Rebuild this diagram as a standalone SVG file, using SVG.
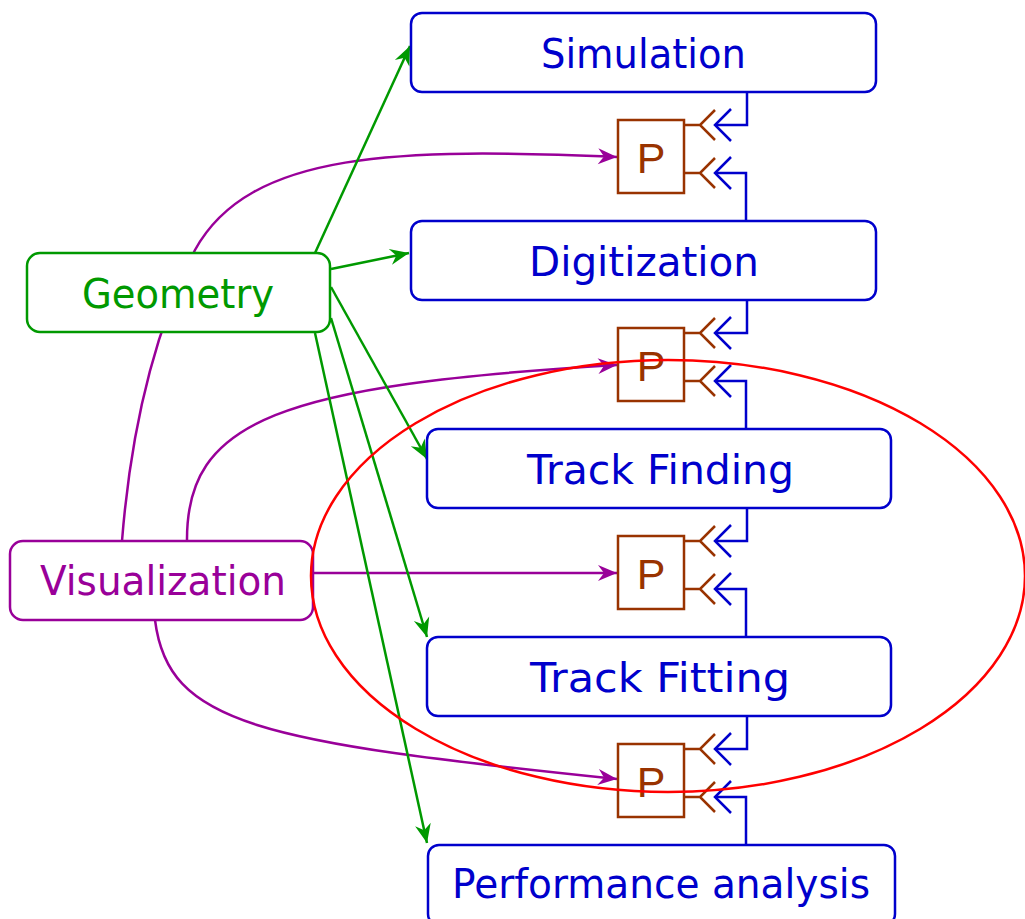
<svg xmlns="http://www.w3.org/2000/svg" width="1025" height="919" viewBox="0 0 1025 919">
<style>
.bbox{fill:#fff;stroke:#0000cc;stroke-width:2.5}
.gbox{fill:#fff;stroke:#009900;stroke-width:2.5}
.vbox{fill:#fff;stroke:#990099;stroke-width:2.5}
.pbox{fill:#fff;stroke:#993300;stroke-width:2.5}
.lbl{font-family:"Comic Sans MS","DejaVu Sans",sans-serif;font-size:40px;text-anchor:start}
.bt{fill:#0000cc}
.gt{fill:#009900}
.vt{fill:#990099}
.pt{font-family:"Liberation Sans",Arial,sans-serif;font-size:43px;fill:#993300;text-anchor:middle}
.g{fill:none;stroke:#009900;stroke-width:2.5}
.v{fill:none;stroke:#990099;stroke-width:2.5}
.bl{fill:none;stroke:#0000cc;stroke-width:2.5}
.br{fill:none;stroke:#993300;stroke-width:2.5}
</style>
<defs>
<marker id="ag" markerUnits="userSpaceOnUse" viewBox="-20 -10 22 20" refX="0" refY="0" markerWidth="22" markerHeight="20" orient="auto"><path d="M0,0 L-19,-8 L-13,0 L-19,8 Z" fill="#009900"/></marker>
<marker id="av" markerUnits="userSpaceOnUse" viewBox="-20 -10 22 20" refX="0" refY="0" markerWidth="22" markerHeight="20" orient="auto"><path d="M0,0 L-19,-8 L-13,0 L-19,8 Z" fill="#990099"/></marker>
<g id="port">
<path class="br" d="M0,0 H16 M31,-15 L16,0 L31,15"/>
<path class="bl" d="M47,-16 L31,0 L47,16"/>
</g>
</defs>

<g id="connectors">
<!-- purple (drawn under Geometry box) -->
<path class="v" d="M122,541 C130,440 150,340 195,250 C250,150 400,148 617,157" marker-end="url(#av)"/>
<path class="v" d="M187,541 C186,420 280,385 617,365" marker-end="url(#av)"/>
<path class="v" d="M313,573 L617,573" marker-end="url(#av)"/>
<path class="v" d="M155,620 C168,725 260,742 617,779" marker-end="url(#av)"/>
<!-- blue port links -->
<path class="bl" d="M715,125 H747 V92 M715,173 H746 V221"/>
<path class="bl" d="M715,333 H747 V300 M715,381 H746 V429"/>
<path class="bl" d="M715,541 H747 V508 M715,589 H746 V637"/>
<path class="bl" d="M715,749 H747 V716 M715,797 H746 V845"/>
</g>

<g id="geometry">
<rect class="gbox" x="27" y="253" width="303" height="79" rx="13"/>
<text class="lbl gt" x="82" y="308" textLength="192" lengthAdjust="spacingAndGlyphs">Geometry</text>
</g>

<g id="connectors-green">
<path class="g" d="M315,253 L410,46" marker-end="url(#ag)"/>
<path class="g" d="M331,269 L409,253" marker-end="url(#ag)"/>
<path class="g" d="M331,287 L427,459" marker-end="url(#ag)"/>
<path class="g" d="M331,318 L427,637" marker-end="url(#ag)"/>
<path class="g" d="M315,333 L427,843" marker-end="url(#ag)"/>
</g>

<g id="visualization">
<rect class="vbox" x="10" y="541" width="303" height="79" rx="13"/>
<text class="lbl vt" x="40" y="595" textLength="246" lengthAdjust="spacingAndGlyphs">Visualization</text>
</g>

<g id="simulation">
<rect class="bbox" x="411" y="13" width="465" height="79" rx="11"/>
<text class="lbl bt" x="541" y="68" textLength="205" lengthAdjust="spacingAndGlyphs">Simulation</text>
</g>
<g id="digitization">
<rect class="bbox" x="411" y="221" width="465" height="79" rx="11"/>
<text class="lbl bt" x="529" y="276" textLength="230" lengthAdjust="spacingAndGlyphs">Digitization</text>
</g>
<g id="trackfinding">
<rect class="bbox" x="427" y="429" width="464" height="79" rx="11"/>
<text class="lbl bt" x="527" y="484" textLength="267" lengthAdjust="spacingAndGlyphs">Track Finding</text>
</g>
<g id="trackfitting">
<rect class="bbox" x="427" y="637" width="464" height="79" rx="11"/>
<text class="lbl bt" x="530" y="692" textLength="260" lengthAdjust="spacingAndGlyphs">Track Fitting</text>
</g>
<g id="performance">
<rect class="bbox" x="428" y="845" width="467" height="80" rx="11"/>
<text class="lbl bt" x="452" y="898" textLength="418" lengthAdjust="spacingAndGlyphs">Performance analysis</text>
</g>

<g id="p1">
<rect class="pbox" x="618" y="120" width="66" height="73"/>
<text class="pt" x="651" y="173">P</text>
<use href="#port" x="684" y="125"/>
<use href="#port" x="684" y="173"/>
</g>
<g id="p2">
<rect class="pbox" x="618" y="328" width="66" height="73"/>
<text class="pt" x="651" y="381">P</text>
<use href="#port" x="684" y="333"/>
<use href="#port" x="684" y="381"/>
</g>
<g id="p3">
<rect class="pbox" x="618" y="536" width="66" height="73"/>
<text class="pt" x="651" y="589">P</text>
<use href="#port" x="684" y="541"/>
<use href="#port" x="684" y="589"/>
</g>
<g id="p4">
<rect class="pbox" x="618" y="744" width="66" height="73"/>
<text class="pt" x="651" y="797">P</text>
<use href="#port" x="684" y="749"/>
<use href="#port" x="684" y="797"/>
</g>

<g id="region">
<ellipse cx="668" cy="576" rx="357" ry="216" fill="none" stroke="#ff0000" stroke-width="2.5"/>
</g>
</svg>
